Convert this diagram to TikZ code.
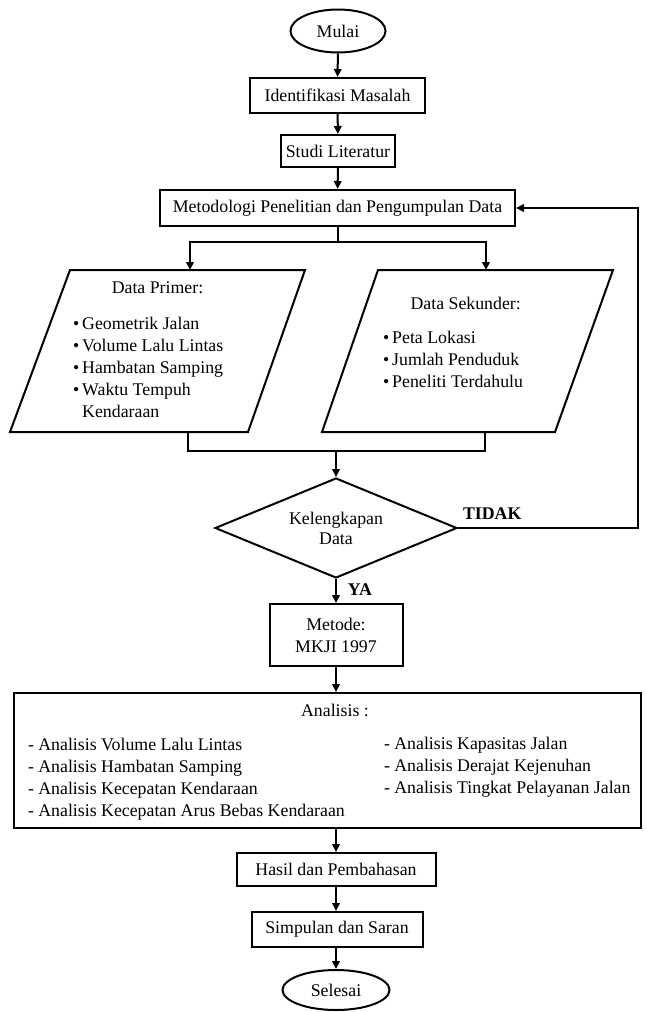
\documentclass[tikz,border=0pt]{standalone}
\usepackage{fontspec}
\setmainfont{Liberation Serif}
\usetikzlibrary{arrows.meta,shapes.geometric,calc}
\newcommand{\fsz}{\fontsize{17.8}{22}\selectfont}

\begin{document}
\begin{tikzpicture}[x=1pt,y=-1pt,>={Triangle[length=8pt,width=7.5pt]},line width=2pt,font=\fsz,
  box/.style={draw,rectangle,inner sep=0pt,align=center},
  term/.style={draw,ellipse,inner sep=0pt},
  lbl/.style={inner sep=0pt,align=left}]
  \useasboundingbox (0,0) rectangle (646,1012);
  % top of the chart
  \node[term,minimum width=95pt,minimum height=43pt] (mulai) at (338,31) {Mulai};
  \node[box,minimum width=175pt,minimum height=35pt] (ident) at (337.5,95.5) {Identifikasi Masalah};
  \node[box,minimum width=114pt,minimum height=32pt] (studi) at (338,151) {Studi Literatur};
  \node[box,minimum width=355pt,minimum height=36pt] (metod) at (337.5,208) {Metodologi Penelitian dan Pengumpulan Data};
  \draw[->] (mulai) -- (ident);
  \draw[->] (ident) -- (studi);
  \draw[->] (studi) -- (metod);
  % data primer / sekunder
  \draw (70,270) -- (305,270) -- (248,432) -- (10,432) -- cycle;
  \draw (378,270) -- (613,270) -- (555,432) -- (322,432) -- cycle;
  \coordinate (fork) at (337.5,242);
  \coordinate (primin) at (190,270);
  \coordinate (sekin) at (486,270);
  \coordinate (primout) at (188,432);
  \coordinate (sekout) at (485,432);
  \coordinate (join) at (336,451);
  \node (primtitle) at (157.5,288) {Data Primer:};
  \node[lbl,anchor=west] (primlist) at (72,369) {\begin{tabular}{@{}l@{\hspace{3pt}}l@{}}
    \textbullet & Geometrik Jalan\\
    \textbullet & Volume Lalu Lintas\\
    \textbullet & Hambatan Samping\\
    \textbullet & Waktu Tempuh\\
     & Kendaraan
  \end{tabular}};
  \node (sektitle) at (465.7,303) {Data Sekunder:};
  \node[lbl,anchor=west] (seklist) at (382,361) {\begin{tabular}{@{}l@{\hspace{3pt}}l@{}}
    \textbullet & Peta Lokasi\\
    \textbullet & Jumlah Penduduk\\
    \textbullet & Peneliti Terdahulu
  \end{tabular}};
  \draw (metod.south) -- (fork);
  \draw[->] (fork) -| (primin);
  \draw[->] (fork) -| (sekin);
  \draw (primout) |- (join) -| (sekout);
  % decision
  \node[draw,diamond,aspect=2.4,inner sep=0pt,minimum width=242pt,minimum height=100pt,
    align=center,font=\fontsize{17.8}{20}\selectfont] (cek) at (336,528) {Kelengkapan\\Data};
  \draw[->] (join) -- (cek.north);
  \coordinate (back) at (638,528);
  \draw[->] (cek.east) -- (back) |- (metod.east);
  \node[inner sep=0pt,anchor=west,font=\fsz\bfseries] (tidak) at (462,514) {TIDAK};
  \node[inner sep=0pt,font=\fsz\bfseries] (ya) at (360,590) {YA};
  \node[box,minimum width=133pt,minimum height=62pt] (metode) at (336,635) {Metode:\\MKJI 1997};
  \draw[->] (cek.south) -- (metode.north);
  % analisis
  \node[draw,inner sep=0pt,minimum width=627pt,minimum height=135pt] (anal) at (327.5,760.5) {};
  \node (analtitle) at (335,710) {Analisis :};
  \node[lbl,anchor=west] (analkiri) at (27,779) {- Analisis Volume Lalu Lintas\\
    - Analisis Hambatan Samping\\
    - Analisis Kecepatan Kendaraan\\
    - Analisis Kecepatan Arus Bebas Kendaraan};
  \node[lbl,anchor=west] (analkanan) at (383,767) {- Analisis Kapasitas Jalan\\
    - Analisis Derajat Kejenuhan\\
    - Analisis Tingkat Pelayanan Jalan};
  \draw[->] (metode.south) -- (metode.south |- anal.north);
  % bottom
  \node[box,minimum width=199pt,minimum height=33pt] (hasil) at (336,869.5) {Hasil dan Pembahasan};
  \node[box,minimum width=171pt,minimum height=35pt] (simp) at (337,929.5) {Simpulan dan Saran};
  \node[term,minimum width=107pt,minimum height=40pt] (selesai) at (336,990) {Selesai};
  \draw[->] (anal.south -| hasil.north) -- (hasil.north);
  \draw[->] (hasil.south) -- (hasil.south |- simp.north);
  \draw[->] (hasil.south |- simp.south) -- (selesai.north);
\end{tikzpicture}
\end{document}
